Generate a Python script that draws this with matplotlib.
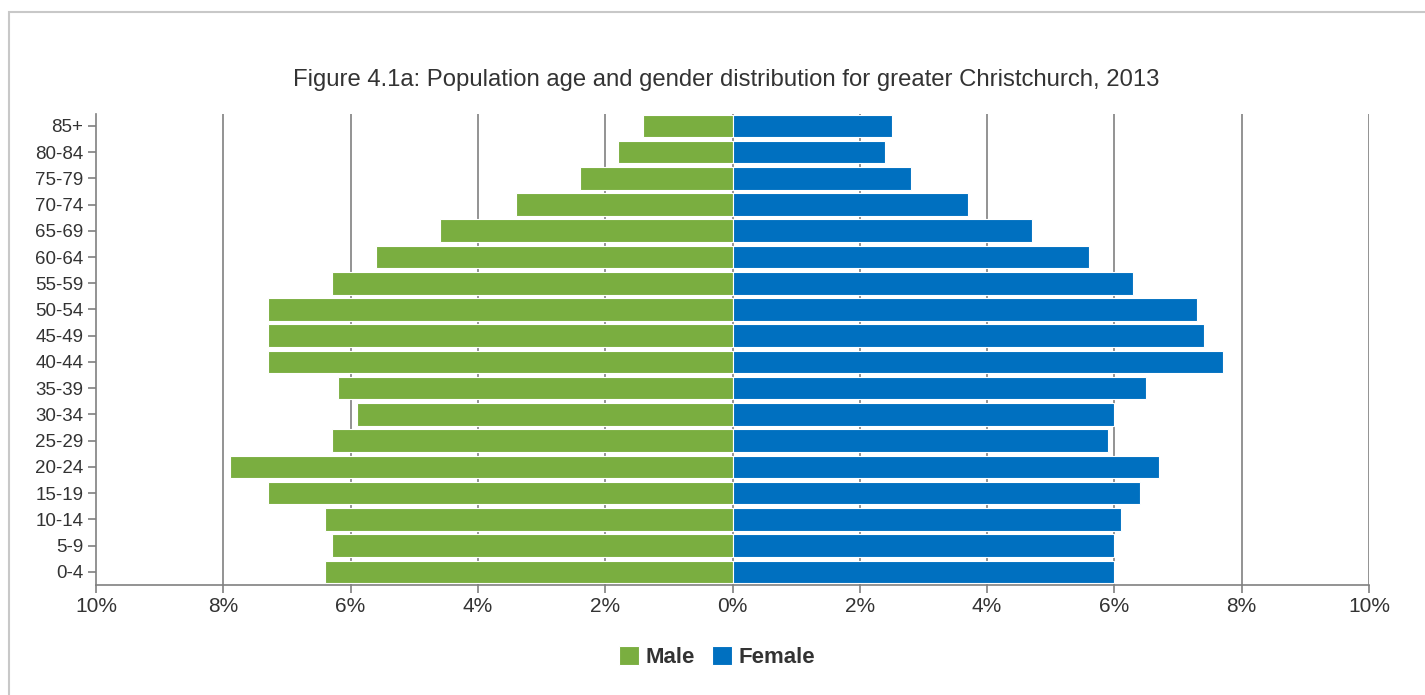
import matplotlib.pyplot as plt
import matplotlib.patches as mpatches
import numpy as np

plt.rcParams['font.family'] = ['Liberation Sans', 'DejaVu Sans']

age_groups = ['85+', '80-84', '75-79', '70-74', '65-69', '60-64', '55-59', '50-54',
              '45-49', '40-44', '35-39', '30-34', '25-29', '20-24', '15-19',
              '10-14', '5-9', '0-4']
male = [1.4, 1.8, 2.4, 3.4, 4.6, 5.6, 6.3, 7.3, 7.3, 7.3, 6.2, 5.9, 6.3, 7.9, 7.3, 6.4, 6.3, 6.4]
female = [2.5, 2.4, 2.8, 3.7, 4.7, 5.6, 6.3, 7.3, 7.4, 7.7, 6.5, 6.0, 5.9, 6.7, 6.4, 6.1, 6.0, 6.0]
x_ticks = [-10, -8, -6, -4, -2, 0, 2, 4, 6, 8, 10]

GREEN = '#7aae40'
BLUE = '#0070c0'
GREY = '#808080'
TEXT = '#333333'

fig = plt.figure(figsize=(14.25, 6.95), dpi=100)
W, H = 1425, 695
ax = fig.add_axes([96 / W, 1 - 585 / H, (1369 - 96) / W, (585 - 114) / H])

# outer frame
fig.patches.append(mpatches.Rectangle((9 / W, -0.1), 1.1, 1 - 12 / H + 0.1,
                                      transform=fig.transFigure, fill=False,
                                      edgecolor='#c8c8c8', linewidth=1.5))

y = np.arange(len(age_groups))[::-1]
for gx in x_ticks[1:]:
    ax.axvline(gx, color=GREY, linewidth=1.2, zorder=0)

ax.barh(y, [-m for m in male], height=0.86, color=GREEN, edgecolor='white', linewidth=0.8, label='Male', zorder=2)
ax.barh(y, female, height=0.86, color=BLUE, edgecolor='white', linewidth=0.8, label='Female', zorder=2)

ax.set_xlim(-10, 10)
ax.set_ylim(-0.5, 17.45)
ax.set_xticks(x_ticks)
ax.set_xticklabels([f'{abs(v)}%' for v in x_ticks], fontsize=15, color=TEXT)
ax.set_yticks(y)
ax.set_yticklabels(age_groups, fontsize=13.5, color=TEXT)
ax.tick_params(axis='both', length=6, width=1.2, color=GREY)
ax.tick_params(axis='x', pad=3)
ax.tick_params(axis='y', pad=3)

for s in ['top', 'right']:
    ax.spines[s].set_visible(False)
for s in ['left', 'bottom']:
    ax.spines[s].set_color(GREY)
    ax.spines[s].set_linewidth(1.2)

fig.text(726 / W, 1 - 80 / H, 'Figure 4.1a: Population age and gender distribution for greater Christchurch, 2013',
         ha='center', va='center', fontsize=17.2, color=TEXT)

leg = fig.legend(loc='center', bbox_to_anchor=(717 / W, 1 - 657 / H), ncol=2, frameon=False,
                 prop={'size': 16, 'weight': 'bold'}, handlelength=0.9, handleheight=0.9,
                 handletextpad=0.3, columnspacing=0.75)
for t in leg.get_texts():
    t.set_color(TEXT)

fig.savefig('out.png', dpi=100)
